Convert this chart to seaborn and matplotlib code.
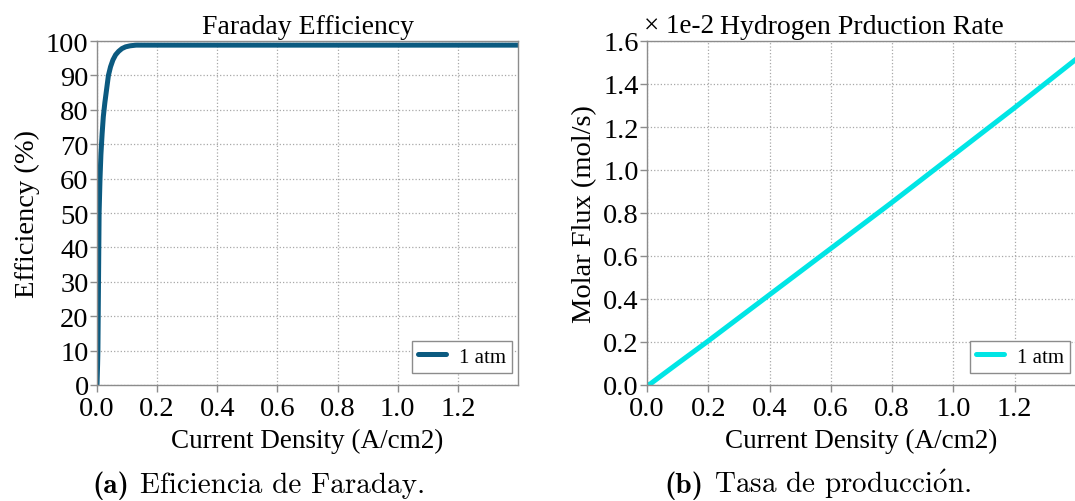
import matplotlib
matplotlib.use("Agg")
import matplotlib.pyplot as plt
import seaborn as sns
import pandas as pd

# ---- data ----
cd_eff = [0, 0.001, 0.002, 0.003, 0.004, 0.005, 0.006, 0.007, 0.010, 0.013, 0.017,
          0.021, 0.026, 0.032, 0.038, 0.045, 0.053, 0.062, 0.072, 0.083, 0.095,
          0.11, 0.13, 0.16, 0.2, 0.4, 0.6, 0.8, 1.0, 1.2, 1.4]
efficiency = [0, 3, 6, 10, 20, 30, 40, 50, 60, 67, 73,
              78, 82, 86, 90, 92.5, 94.5, 96.0, 97.0, 97.8, 98.3,
              98.6, 98.8, 98.8, 98.8, 98.8, 98.8, 98.8, 98.8, 98.8, 98.8]

cd_flux = [0, 0.01, 0.02, 0.05, 0.1, 0.2, 0.4, 0.6, 0.8, 1.0, 1.2, 1.4]
flux_e2 = [0, 0.004, 0.015, 0.047, 0.10, 0.205, 0.42, 0.635, 0.85, 1.07, 1.29, 1.515]

series_label = "1 atm"
eff_ticks = [0, 10, 20, 30, 40, 50, 60, 70, 80, 90, 100]
flux_ticks = [0.0, 0.2, 0.4, 0.6, 0.8, 1.0, 1.2, 1.4, 1.6]
x_ticks = [0.0, 0.2, 0.4, 0.6, 0.8, 1.0, 1.2]

df_eff = pd.DataFrame({"cd": cd_eff, "eff": efficiency})
df_flux = pd.DataFrame({"cd": cd_flux, "flux": flux_e2})

sns.set_theme(style="ticks")
plt.rcParams["font.family"] = ["Liberation Serif", "DejaVu Serif"]
plt.rcParams["mathtext.fontset"] = "cm"
plt.rcParams["text.color"] = "black"
plt.rcParams["axes.labelcolor"] = "black"

FS = 20.5
GRAY = "#8c8c8c"
W, H = 1075, 502

fig = plt.figure(figsize=(W / 100, H / 100), dpi=100)
ax1 = fig.add_axes([97/W, 116/H, 421/W, 344/H])
ax2 = fig.add_axes([647/W, 116/H, 429/W, 344/H])

sns.lineplot(data=df_eff, x="cd", y="eff", ax=ax1, color="#0b5a80",
             linewidth=3.6, label=series_label)
sns.lineplot(data=df_flux, x="cd", y="flux", ax=ax2, color="#00e5e5",
             linewidth=3.6, label=series_label)

for ax, axw in ((ax1, 421), (ax2, 429)):
    ax.set_xlim(0, 1.4)
    ax.set_xticks(x_ticks)
    ax.set_xticklabels([f"{t:.1f}" for t in x_ticks])
    ax.grid(True, linestyle=":", color="#a8a8a8", linewidth=0.9)
    for s in ax.spines.values():
        s.set_color(GRAY)
        s.set_linewidth(1.0)
    ax.tick_params(axis="both", which="major", direction="out", length=5,
                   width=1.0, color=GRAY, labelsize=FS, pad=1, labelcolor="black")
    ax.tick_params(axis="x", pad=3)
    ax.set_xlabel("Current Density (A/cm2)", fontsize=19.5, labelpad=5)
    leg = ax.legend(loc="lower right", fontsize=15, frameon=True,
                    fancybox=False, edgecolor=GRAY, framealpha=1,
                    handlelength=1.35, handletextpad=0.6, borderpad=0.3,
                    borderaxespad=0,
                    bbox_to_anchor=(1 - 6/axw, 12/344))
    leg.get_frame().set_linewidth(1.0)
    for h in leg.get_lines():
        h.set_linewidth(3.6)

ax1.set_ylim(0, 100)
ax1.set_yticks(eff_ticks)
ax1.set_yticklabels([str(t) for t in eff_ticks])
ax1.set_ylabel("Efficiency (%)", fontsize=20.5, labelpad=4)
ax1.set_title("Faraday Efficiency", fontsize=20, pad=6)

ax2.set_ylim(0, 1.6)
ax2.set_yticks(flux_ticks)
ax2.set_yticklabels([f"{t:.1f}" for t in flux_ticks])
ax2.set_ylabel("Molar Flux (mol/s)", fontsize=20.5, labelpad=4)
ax2.set_title("Hydrogen Prduction Rate", fontsize=20, pad=6)
ax2.text(-0.008, 1.0 + 9/344, "\u00d7 1e-2", transform=ax2.transAxes,
         fontsize=19.5, ha="left", va="baseline")

# captions: bold label (cmb10) + regular text (cmr10)
CFS = 21
renderer = fig.canvas.get_renderer()
caps = [(259, "(a)", "Eficiencia de Faraday."),
        (818, "(b)", r"Tasa de producci$\acute{\mathrm{o}}$n.")]
for xc, lab, txt in caps:
    y = 9 / H
    t1 = fig.text(0, y, lab, ha="left", va="baseline", fontsize=CFS, family="cmb10")
    t2 = fig.text(0, y, txt, ha="left", va="baseline", fontsize=CFS, family="cmr10")
    w1 = t1.get_window_extent(renderer).width
    w2 = t2.get_window_extent(renderer).width
    gap = 11
    x0 = xc - (w1 + gap + w2) / 2
    t1.set_x(x0 / W)
    t2.set_x((x0 + w1 + gap) / W)

fig.savefig("out.png", dpi=100)
